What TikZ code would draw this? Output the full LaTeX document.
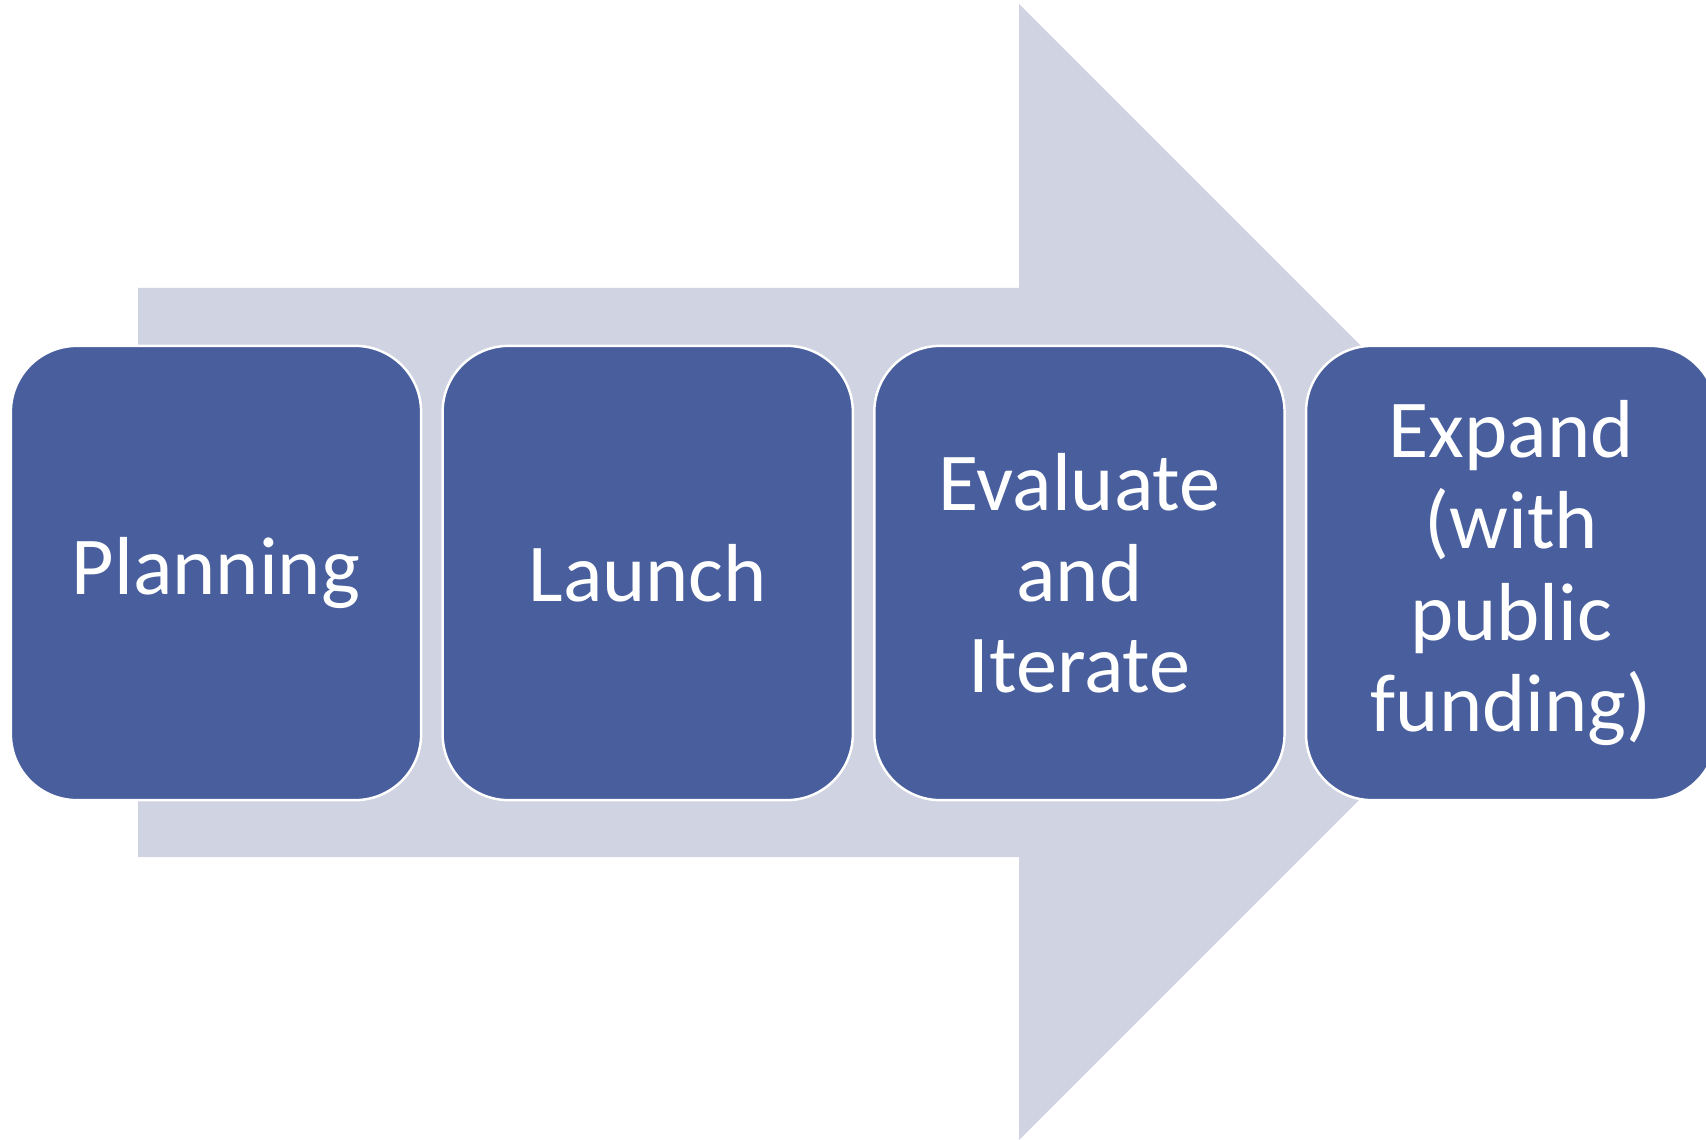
\documentclass[tikz,border=0pt]{standalone}
\usepackage{fontspec}
\setmainfont{Carlito}
\usetikzlibrary{positioning}
\definecolor{arrowgray}{RGB}{208,211,225}
\definecolor{stageblue}{RGB}{72,94,157}
\tikzset{stage/.style={draw=white, line width=0.7pt, fill=stageblue, rounded corners=0.66cm,
  minimum width=4.10cm, minimum height=4.54cm, inner sep=0pt, text=white, align=center,
  font=\fontsize{23.4}{25.9}\selectfont}}

\begin{document}
\begin{tikzpicture}[x=0.01cm,y=-0.01cm]
\useasboundingbox (0,0) rectangle (1706,1140);
% Arrow
\fill[arrowgray] (138,288) -- (1019,288) -- (1019,4) -- (1587,572) -- (1019,1140)
  -- (1019,857) -- (138,857) -- cycle;
% Stages
\node[stage] (plan) at (216,573) {Planning};
\node[stage, right=0.19cm of plan] (launch) {Launch};
\node[stage, right=0.19cm of launch] (iterate) {Evaluate\\and\\Iterate};
\node[stage, right=0.19cm of iterate] (expand) {Expand\\(with\\public\\funding)};

\end{tikzpicture}
\end{document}
